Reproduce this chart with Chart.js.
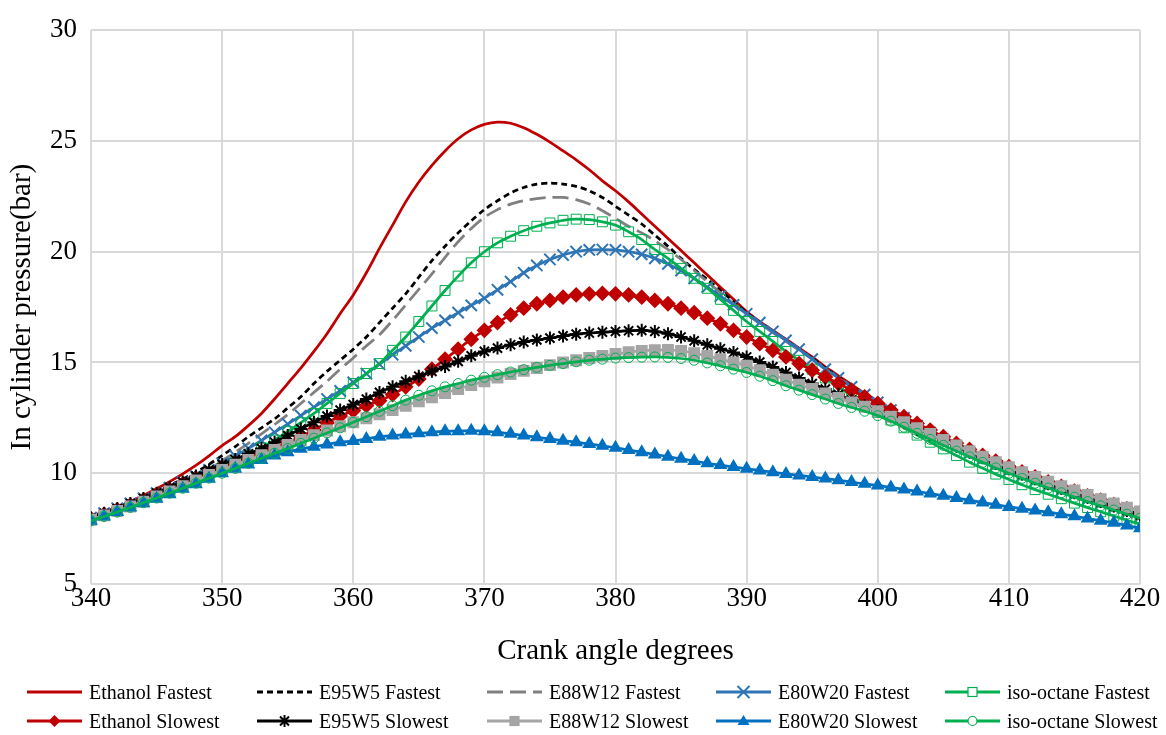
<!DOCTYPE html>
<html>
<head>
<meta charset="utf-8">
<script src="https://cdn.jsdelivr.net/npm/chart.js@4.4.1/dist/chart.umd.min.js"></script>
<style>
  body { margin: 0; background: #fff; }
  #wrap { position: relative; width: 1166px; height: 735px; }
  .item { position: absolute; height: 24px; display: flex; align-items: center;
          font-family: 'Liberation Serif', 'Times New Roman', serif; font-size: 20px; color: #000; white-space: nowrap; }
  .item svg { margin-right: 6px; }
</style>
</head>
<body>
<div id="wrap">
  <canvas id="chart" width="1166" height="735"></canvas>
  <div id="legend"></div>
</div>
<script>
// crank angle (deg)
var crankAngle = [
  340, 341, 342, 343, 344, 345, 346, 347, 348, 349,
  350, 351, 352, 353, 354, 355, 356, 357, 358, 359,
  360, 361, 362, 363, 364, 365, 366, 367, 368, 369,
  370, 371, 372, 373, 374, 375, 376, 377, 378, 379,
  380, 381, 382, 383, 384, 385, 386, 387, 388, 389,
  390, 391, 392, 393, 394, 395, 396, 397, 398, 399,
  400, 401, 402, 403, 404, 405, 406, 407, 408, 409,
  410, 411, 412, 413, 414, 415, 416, 417, 418, 419,
  420
];

// in cylinder pressure (bar)
var ethanolFastest = [
  7.98, 8.20, 8.45, 8.72, 9.00, 9.30, 9.62, 9.97, 10.35, 10.78,
  11.25, 11.65, 12.15, 12.70, 13.35, 14.05, 14.75, 15.50, 16.30, 17.20,
  18.05, 19.05, 20.15, 21.20, 22.25, 23.15, 23.90, 24.55, 25.10, 25.50,
  25.75, 25.85, 25.80, 25.60, 25.30, 24.95, 24.55, 24.15, 23.70, 23.20,
  22.75, 22.25, 21.70, 21.15, 20.60, 20.05, 19.50, 18.95, 18.40, 17.85,
  17.30, 16.85, 16.45, 16.05, 15.65, 15.25, 14.80, 14.40, 14.00, 13.60,
  13.25, 12.90, 12.55, 12.20, 11.90, 11.60, 11.30, 11.00, 10.75, 10.50,
  10.25, 10.00, 9.77, 9.55, 9.34, 9.14, 8.94, 8.74, 8.55, 8.37,
  8.20
];
var e95w5Fastest = [
  7.98, 8.20, 8.43, 8.67, 8.92, 9.18, 9.45, 9.74, 10.05, 10.40,
  10.80, 11.20, 11.65, 12.05, 12.45, 12.95, 13.45, 14.05, 14.60, 15.10,
  15.60, 16.15, 16.80, 17.45, 18.10, 18.85, 19.60, 20.25, 20.85, 21.40,
  21.90, 22.30, 22.65, 22.90, 23.05, 23.10, 23.05, 22.95, 22.75, 22.45,
  22.05, 21.65, 21.25, 20.75, 20.25, 19.70, 19.20, 18.75, 18.25, 17.75,
  17.25, 16.80, 16.40, 16.00, 15.60, 15.20, 14.75, 14.35, 13.95, 13.55,
  13.20, 12.85, 12.50, 12.15, 11.85, 11.55, 11.25, 10.95, 10.70, 10.45,
  10.20, 9.95, 9.72, 9.50, 9.30, 9.10, 8.90, 8.70, 8.50, 8.30,
  8.12
];
var e88w12Fastest = [
  7.97, 8.18, 8.40, 8.63, 8.87, 9.12, 9.38, 9.65, 9.95, 10.25,
  10.58, 10.95, 11.35, 11.78, 12.20, 12.65, 13.15, 13.65, 14.15, 14.70,
  15.20, 15.75, 16.25, 16.90, 17.60, 18.30, 19.00, 19.75, 20.45, 21.05,
  21.55, 21.90, 22.15, 22.30, 22.40, 22.45, 22.45, 22.35, 22.15, 21.85,
  21.50, 21.15, 20.85, 20.50, 20.10, 19.65, 19.15, 18.65, 18.15, 17.65,
  17.20, 16.75, 16.35, 15.95, 15.55, 15.15, 14.70, 14.30, 13.90, 13.50,
  13.15, 12.80, 12.45, 12.10, 11.80, 11.50, 11.20, 10.90, 10.65, 10.40,
  10.15, 9.90, 9.67, 9.45, 9.25, 9.05, 8.85, 8.65, 8.46, 8.27,
  8.10
];
var e80w20Fastest = [
  8.00, 8.20, 8.42, 8.64, 8.87, 9.10, 9.35, 9.60, 9.87, 10.15,
  10.45, 10.78, 11.12, 11.48, 11.85, 12.22, 12.60, 12.98, 13.35, 13.72,
  14.10, 14.50, 14.92, 15.35, 15.75, 16.15, 16.55, 16.90, 17.25, 17.58,
  17.90, 18.28, 18.65, 19.05, 19.38, 19.65, 19.85, 20.00, 20.08, 20.10,
  20.08, 20.00, 19.88, 19.70, 19.45, 19.15, 18.80, 18.40, 18.00, 17.60,
  17.20, 16.80, 16.40, 16.00, 15.60, 15.15, 14.70, 14.30, 13.90, 13.55,
  13.20, 12.85, 12.50, 12.15, 11.83, 11.52, 11.22, 10.92, 10.65, 10.38,
  10.12, 9.88, 9.65, 9.43, 9.22, 9.02, 8.82, 8.62, 8.42, 8.22,
  8.04
];
var isoOctaneFastest = [
  7.90, 8.10, 8.30, 8.50, 8.72, 8.95, 9.18, 9.42, 9.68, 9.95,
  10.22, 10.50, 10.82, 11.15, 11.50, 11.88, 12.28, 12.70, 13.15, 13.60,
  14.05, 14.50, 14.95, 15.55, 16.15, 16.85, 17.55, 18.25, 18.90, 19.50,
  20.00, 20.40, 20.70, 20.95, 21.15, 21.30, 21.42, 21.47, 21.45, 21.35,
  21.20, 20.90, 20.55, 20.10, 19.70, 19.25, 18.80, 18.35, 17.85, 17.35,
  16.85, 16.40, 15.95, 15.50, 15.10, 14.70, 14.30, 13.90, 13.50, 13.10,
  12.75, 12.40, 12.05, 11.72, 11.40, 11.10, 10.80, 10.50, 10.22, 9.96,
  9.72, 9.48, 9.26, 9.05, 8.85, 8.65, 8.45, 8.26, 8.07, 7.88,
  7.70
];
var ethanolSlowest = [
  7.95, 8.15, 8.36, 8.57, 8.80, 9.03, 9.27, 9.52, 9.78, 10.02,
  10.25, 10.48, 10.72, 10.95, 11.17, 11.40, 11.65, 11.95, 12.28, 12.58,
  12.82, 13.05, 13.27, 13.55, 13.90, 14.25, 14.70, 15.15, 15.60, 16.05,
  16.45, 16.80, 17.15, 17.45, 17.65, 17.80, 17.95, 18.05, 18.10, 18.12,
  18.10, 18.05, 17.95, 17.80, 17.65, 17.45, 17.25, 17.00, 16.75, 16.45,
  16.15, 15.85, 15.55, 15.25, 14.95, 14.65, 14.35, 14.05, 13.75, 13.45,
  13.15, 12.85, 12.55, 12.25, 11.95, 11.65, 11.35, 11.07, 10.80, 10.55,
  10.30, 10.06, 9.83, 9.61, 9.40, 9.19, 8.98, 8.78, 8.58, 8.39,
  8.20
];
var e95w5Slowest = [
  7.97, 8.18, 8.40, 8.63, 8.86, 9.10, 9.35, 9.60, 9.87, 10.15,
  10.40, 10.62, 10.88, 11.12, 11.40, 11.70, 12.00, 12.30, 12.58, 12.85,
  13.10, 13.35, 13.65, 13.90, 14.15, 14.38, 14.60, 14.82, 15.05, 15.30,
  15.50, 15.65, 15.80, 15.92, 16.02, 16.10, 16.20, 16.28, 16.33, 16.37,
  16.40, 16.43, 16.45, 16.40, 16.30, 16.15, 15.98, 15.80, 15.62, 15.45,
  15.25, 15.02, 14.80, 14.55, 14.30, 14.05, 13.80, 13.55, 13.30, 13.05,
  12.82, 12.55, 12.28, 12.00, 11.75, 11.50, 11.22, 10.95, 10.70, 10.45,
  10.20, 9.97, 9.75, 9.53, 9.32, 9.12, 8.92, 8.72, 8.52, 8.32,
  8.12
];
var e88w12Slowest = [
  7.90, 8.10, 8.30, 8.50, 8.72, 8.95, 9.18, 9.42, 9.67, 9.92,
  10.15, 10.38, 10.60, 10.82, 11.05, 11.28, 11.50, 11.72, 11.93, 12.12,
  12.30, 12.48, 12.66, 12.85, 13.05, 13.25, 13.43, 13.62, 13.80, 13.98,
  14.15, 14.32, 14.48, 14.62, 14.75, 14.88, 15.00, 15.10, 15.20, 15.30,
  15.38, 15.46, 15.52, 15.56, 15.57, 15.52, 15.42, 15.30, 15.15, 15.00,
  14.85, 14.65, 14.45, 14.22, 14.00, 13.80, 13.60, 13.40, 13.20, 13.00,
  12.80, 12.55, 12.30, 12.03, 11.77, 11.50, 11.25, 11.00, 10.75, 10.50,
  10.27, 10.05, 9.83, 9.62, 9.42, 9.22, 9.02, 8.83, 8.64, 8.45,
  8.28
];
var e80w20Slowest = [
  7.85, 8.05, 8.25, 8.45, 8.65, 8.85, 9.05, 9.30, 9.50, 9.75,
  10.00, 10.20, 10.40, 10.60, 10.80, 10.95, 11.10, 11.20, 11.30, 11.40,
  11.45, 11.55, 11.65, 11.70, 11.75, 11.80, 11.85, 11.90, 11.90, 11.92,
  11.90, 11.85, 11.78, 11.70, 11.62, 11.55, 11.47, 11.40, 11.32, 11.24,
  11.15, 11.05, 10.95, 10.85, 10.75, 10.65, 10.55, 10.45, 10.37, 10.28,
  10.20, 10.12, 10.05, 9.97, 9.90, 9.83, 9.76, 9.68, 9.60, 9.52,
  9.45, 9.36, 9.27, 9.18, 9.08, 8.98, 8.88, 8.78, 8.68, 8.58,
  8.48, 8.40, 8.32, 8.24, 8.15, 8.06, 7.96, 7.86, 7.76, 7.64,
  7.52
];
var isoOctaneSlowest = [
  7.85, 8.05, 8.25, 8.46, 8.67, 8.88, 9.10, 9.32, 9.55, 9.78,
  10.00, 10.22, 10.45, 10.68, 10.90, 11.12, 11.35, 11.58, 11.82, 12.05,
  12.30, 12.55, 12.80, 13.05, 13.30, 13.52, 13.72, 13.90, 14.05, 14.20,
  14.33, 14.45, 14.57, 14.68, 14.78, 14.87, 14.95, 15.03, 15.10, 15.15,
  15.20, 15.22, 15.24, 15.25, 15.23, 15.18, 15.10, 14.98, 14.85, 14.70,
  14.55, 14.38, 14.18, 13.95, 13.75, 13.55, 13.35, 13.15, 12.97, 12.80,
  12.60, 12.35, 12.08, 11.80, 11.53, 11.26, 11.00, 10.74, 10.49, 10.24,
  10.00, 9.77, 9.55, 9.33, 9.12, 8.92, 8.72, 8.53, 8.34, 8.15,
  7.97
];

var serif = "'Liberation Serif', 'Times New Roman', serif";

function pts(values) {
  return crankAngle.map(function (a, i) { return { x: a, y: values[i] }; });
}

// label, values, colour, dash, marker, marker radius, marker fill
var series = [
  ['Ethanol Fastest', ethanolFastest, '#C00000', [], false, 0, null],
  ['E95W5 Fastest', e95w5Fastest, '#000000', [6, 4], false, 0, null],
  ['E88W12 Fastest', e88w12Fastest, '#808080', [16, 7], false, 0, null],
  ['E80W20 Fastest', e80w20Fastest, '#2E75B6', [], 'crossRot', 8, '#2E75B6'],
  ['iso-octane Fastest', isoOctaneFastest, '#00B050', [], 'rect', 7, 'rgba(0,0,0,0)'],
  ['Ethanol Slowest', ethanolSlowest, '#C00000', [], 'rectRot', 6.5, '#C00000'],
  ['E95W5 Slowest', e95w5Slowest, '#000000', [], 'star', 6.5, '#000000'],
  ['E88W12 Slowest', e88w12Slowest, '#A5A5A5', [], 'rect', 7, '#A5A5A5'],
  ['E80W20 Slowest', e80w20Slowest, '#0070C0', [], 'triangle', 6, '#0070C0'],
  ['iso-octane Slowest', isoOctaneSlowest, '#00B050', [], 'circle', 5, 'rgba(0,0,0,0)']
];

var datasets = series.map(function (s, i) {
  return {
    label: s[0],
    data: pts(s[1]),
    borderColor: s[2],
    borderWidth: 2.75,
    borderDash: s[3],
    pointStyle: s[4] || 'circle',
    pointRadius: s[4] ? s[5] : 0,
    pointBackgroundColor: s[6] || s[2],
    pointBorderColor: s[2],
    pointBorderWidth: (s[4] === 'rect' && i === 4) || s[4] === 'circle' ? 1 : 2,
    tension: 0.3,
    fill: false,
    order: 10 - i
  };
});

var ctx = document.getElementById('chart').getContext('2d');
new Chart(ctx, {
  type: 'line',
  data: { datasets: datasets },
  options: {
    responsive: false,
    animation: false,
    devicePixelRatio: 1,
    layout: { padding: { left: 0, right: 26, top: 19, bottom: 66 } },
    plugins: { legend: { display: false }, tooltip: { enabled: false } },
    scales: {
      x: {
        type: 'linear', min: 340, max: 420,
        ticks: { stepSize: 10, color: '#000', font: { family: serif, size: 27 }, padding: -1, maxRotation: 0 },
        grid: { color: '#D9D9D9', lineWidth: 2, drawTicks: false },
        border: { display: false },
        title: { display: true, text: 'Crank angle degrees', color: '#000', font: { family: serif, size: 29 }, padding: { top: 4, bottom: 0 } },
        afterFit: function (s) { s.height = 85; }
      },
      y: {
        min: 5, max: 30,
        ticks: { stepSize: 5, color: '#000', font: { family: serif, size: 27 }, padding: 14 },
        grid: { color: '#D9D9D9', lineWidth: 2, drawTicks: false },
        border: { display: false },
        title: { display: true, text: 'In cylinder pressure(bar)', color: '#000', font: { family: serif, size: 29 }, padding: { top: 5, bottom: 0 } },
        afterFit: function (s) { s.width = 91; }
      }
    }
  }
});

// legend, two rows of five like the original
function markerSvg(style, c, fill) {
  var cx = 27.5, cy = 12;
  if (style === 'crossRot') return '<path d="M' + (cx - 6) + ' ' + (cy - 6) + 'L' + (cx + 6) + ' ' + (cy + 6) + 'M' + (cx + 6) + ' ' + (cy - 6) + 'L' + (cx - 6) + ' ' + (cy + 6) + '" stroke="' + c + '" stroke-width="2"/>';
  if (style === 'rect') return '<rect x="' + (cx - 4.5) + '" y="' + (cy - 4.5) + '" width="9" height="9" fill="' + (fill === 'rgba(0,0,0,0)' ? '#fff' : fill) + '" stroke="' + c + '" stroke-width="1.2"/>';
  if (style === 'rectRot') return '<polygon points="' + cx + ',' + (cy - 6) + ' ' + (cx + 6) + ',' + cy + ' ' + cx + ',' + (cy + 6) + ' ' + (cx - 6) + ',' + cy + '" fill="' + c + '"/>';
  if (style === 'star') return '<path d="M' + cx + ' ' + (cy - 6) + 'V' + (cy + 6) + 'M' + (cx - 6) + ' ' + cy + 'H' + (cx + 6) + 'M' + (cx - 4.5) + ' ' + (cy - 4.5) + 'L' + (cx + 4.5) + ' ' + (cy + 4.5) + 'M' + (cx + 4.5) + ' ' + (cy - 4.5) + 'L' + (cx - 4.5) + ' ' + (cy + 4.5) + '" stroke="' + c + '" stroke-width="2"/>';
  if (style === 'triangle') return '<polygon points="' + cx + ',' + (cy - 6) + ' ' + (cx + 6) + ',' + (cy + 4) + ' ' + (cx - 6) + ',' + (cy + 4) + '" fill="' + c + '"/>';
  if (style === 'circle') return '<circle cx="' + cx + '" cy="' + cy + '" r="4.5" fill="#fff" stroke="' + c + '" stroke-width="1.2"/>';
  return '';
}

var legendCols = [27, 257, 487, 716, 945];
var legendRows = [680, 709];
var legend = document.getElementById('legend');
series.forEach(function (s, i) {
  var div = document.createElement('div');
  div.className = 'item';
  div.style.left = legendCols[i % 5] + 'px';
  div.style.top = legendRows[Math.floor(i / 5)] + 'px';
  var dash = s[3].length ? ' stroke-dasharray="' + s[3].join(',') + '"' : '';
  div.innerHTML = '<svg width="56" height="24"><line x1="0" y1="12" x2="55" y2="12" stroke="' + s[2] + '" stroke-width="3"' + dash + '/>' +
    (s[4] ? markerSvg(s[4], s[2], s[6]) : '') + '</svg><span>' + s[0] + '</span>';
  legend.appendChild(div);
});
</script>
</body>
</html>
